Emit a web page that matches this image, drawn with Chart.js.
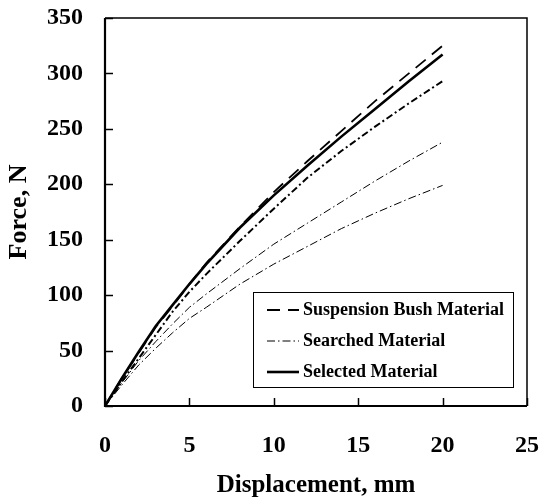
<!DOCTYPE html>
<html>
<head>
<meta charset="utf-8">
<script src="https://cdn.jsdelivr.net/npm/chart.js@4.4.0/dist/chart.umd.min.js"></script>
<style>
  html, body { margin: 0; padding: 0; background: #fff; }
  #wrap { width: 541px; height: 501px; position: relative; }
</style>
</head>
<body>
<div id="wrap"><canvas id="forceChart"></canvas></div>
<script>
// Force against displacement for the bush materials
const displacement   = [0, 1, 2, 3, 4, 5, 6, 8, 10, 12, 14, 16, 18, 20];
const bushForce      = [0, 25, 48, 71, 90, 110, 129, 162, 193, 221, 248, 275, 300, 325];
const searchedForceA = [0, 22, 43, 64, 85, 103, 119, 149, 178, 206, 230, 252, 273, 293];
const searchedForceB = [0, 21, 41, 58, 74, 89, 101, 124, 146, 165, 184, 203, 221, 238];
const searchedForceC = [0, 19, 37, 52, 66, 79, 89, 110, 128, 144, 160, 174, 187, 199];
const selectedForce  = [0, 25, 49, 72, 91, 110, 128, 161, 190, 217, 243, 268, 293, 317];
const legendNames = ["Suspension Bush Material", "Searched Material", "Selected Material"];

const SERIF = "'Liberation Serif', 'Times New Roman', serif";
const pts = ys => displacement.map((x, i) => ({ x, y: ys[i] }));

const line = (data, dash, width, legendRow) => ({
  data: pts(data),
  borderColor: "#000",
  borderWidth: width,
  borderDash: dash,
  pointRadius: 0,
  fill: false,
  tension: 0,
  legendRow,
});

// scales keep their fixed size, label overflow does not push the plot area
const fixSize = (w, h) => s => {
  if (w) s.width = w;
  if (h) s.height = h;
  s.paddingLeft = s.paddingRight = s.paddingTop = s.paddingBottom = 0;
};

// frame, inward tick marks and the boxed legend
const framePlugin = {
  id: "frame",
  afterDatasetsDraw(chart) {
    const { ctx, chartArea: a, scales: { x, y } } = chart;
    ctx.save();
    ctx.strokeStyle = "#000";
    ctx.setLineDash([]);
    ctx.lineWidth = 1.5;
    ctx.beginPath();
    ctx.moveTo(a.left, a.top); ctx.lineTo(a.right, a.top); ctx.lineTo(a.right, a.bottom);
    ctx.stroke();
    ctx.lineWidth = 2.2;
    ctx.beginPath();
    ctx.moveTo(a.left, a.top); ctx.lineTo(a.left, a.bottom); ctx.lineTo(a.right, a.bottom);
    ctx.stroke();

    ctx.lineWidth = 1.5;
    x.ticks.forEach(t => {
      const px = Math.round(x.getPixelForValue(t.value)) + 0.5;
      ctx.beginPath(); ctx.moveTo(px, a.bottom); ctx.lineTo(px, a.bottom - 8); ctx.stroke();
    });
    y.ticks.forEach(t => {
      const py = Math.round(y.getPixelForValue(t.value)) + 0.5;
      ctx.beginPath(); ctx.moveTo(a.left, py); ctx.lineTo(a.left + 8, py); ctx.stroke();
    });

    // legend
    const bx = 253.5, by = 292.5, bw = 260, bh = 95;
    ctx.fillStyle = "#fff";
    ctx.fillRect(bx, by, bw, bh);
    ctx.lineWidth = 1;
    ctx.strokeRect(bx, by, bw, bh);
    const rows = [310, 341, 372];
    ctx.font = "bold 18px " + SERIF;
    ctx.textBaseline = "middle";
    ctx.textAlign = "left";
    ctx.fillStyle = "#000";
    chart.data.datasets.forEach(ds => {
      if (ds.legendRow === undefined) return;
      const ry = rows[ds.legendRow];
      ctx.lineWidth = ds.borderWidth;
      ctx.setLineDash(ds.borderDash || []);
      ctx.beginPath(); ctx.moveTo(267, ry); ctx.lineTo(299, ry); ctx.stroke();
      ctx.setLineDash([]);
      ctx.fillText(legendNames[ds.legendRow], 303, ry);
    });
    ctx.restore();
  }
};

new Chart(document.getElementById("forceChart"), {
  type: "scatter",
  data: {
    datasets: [
      line(bushForce, [13, 8], 1.8, 0),
      line(searchedForceA, [7, 3, 2, 3], 2, undefined),
      line(searchedForceB, [8, 3, 1.5, 3], 1, 1),
      line(searchedForceC, [8, 3, 1.5, 3], 1, undefined),
      line(selectedForce, [], 2.6, 2),
    ],
  },
  options: {
    responsive: true,
    maintainAspectRatio: false,
    animation: false,
    showLine: true,
    layout: { padding: { top: 18, right: 14, left: 0, bottom: 0 } },
    plugins: { legend: { display: false }, tooltip: { enabled: false } },
    scales: {
      x: {
        type: "linear",
        min: 0, max: 25,
        afterFit: fixSize(0, 95),
        grid: { display: false, drawTicks: false },
        border: { display: false },
        ticks: { stepSize: 5, padding: 25, color: "#000", font: { family: SERIF, size: 24, weight: "bold" } },
        title: { display: true, text: "Displacement, mm", color: "#000", padding: 0,
                 font: { family: SERIF, size: 25, weight: "bold" } },
      },
      y: {
        type: "linear",
        min: 0, max: 350,
        afterFit: fixSize(105, 0),
        grid: { display: false, drawTicks: false },
        border: { display: false },
        ticks: { stepSize: 50, padding: 22, color: "#000", font: { family: SERIF, size: 24, weight: "bold" } },
        title: { display: true, text: "Force, N", color: "#000", padding: { top: 4 },
                 font: { family: SERIF, size: 26, weight: "bold" } },
      },
    },
  },
  plugins: [framePlugin],
});
</script>
</body>
</html>
